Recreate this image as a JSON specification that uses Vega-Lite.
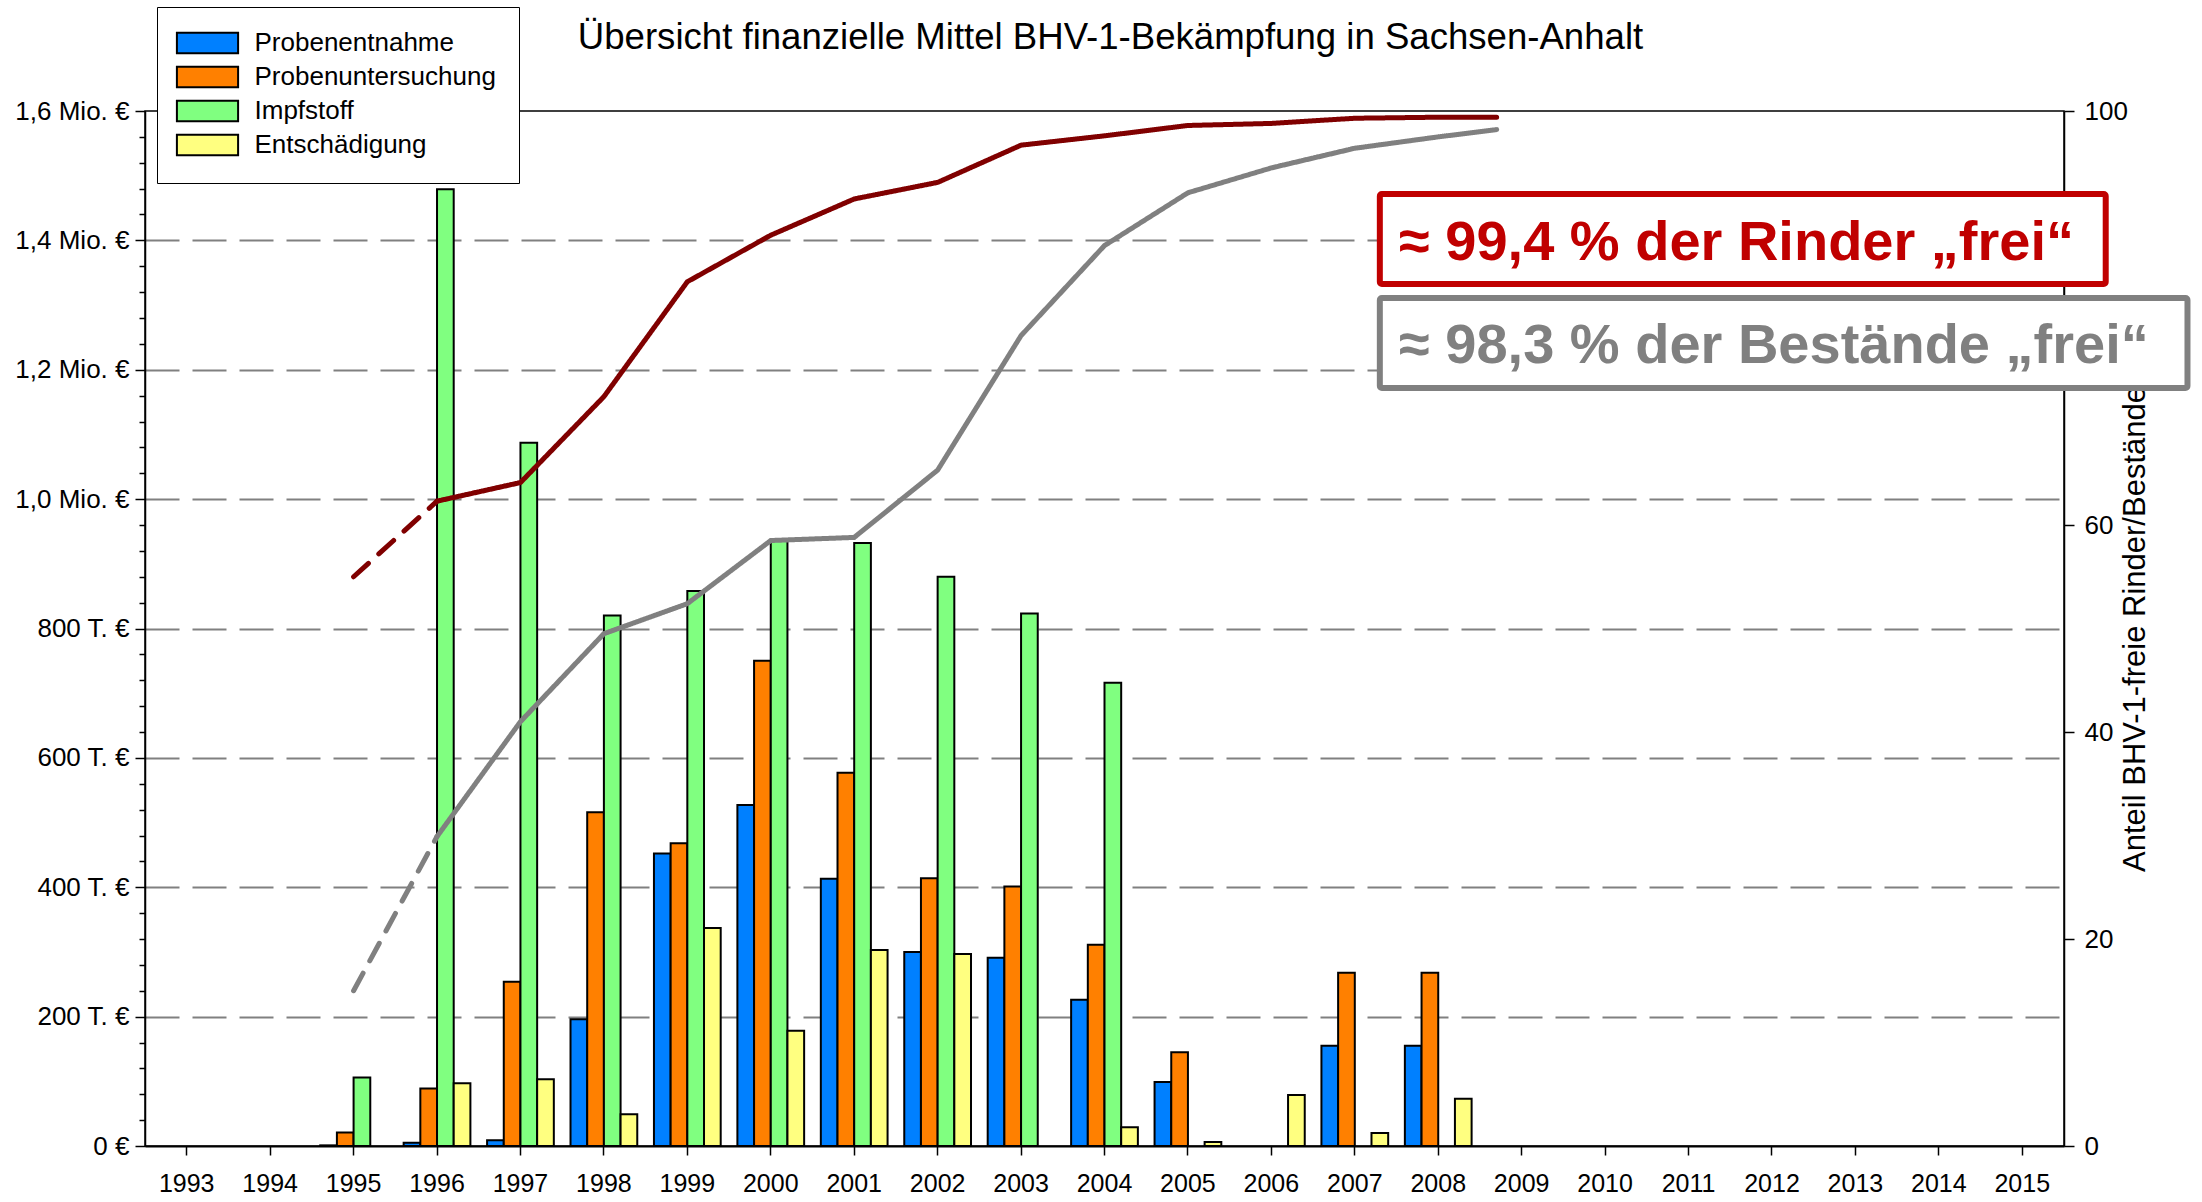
{
  "$schema": "https://vega.github.io/schema/vega-lite/v6.json",
  "width": 1919,
  "height": 1035,
  "autosize": {"type": "none"},
  "padding": {"left": 145, "top": 111, "right": 138, "bottom": 56},
  "background": "white",
  "title": {
    "text": "Übersicht finanzielle Mittel BHV-1-Bekämpfung in Sachsen-Anhalt",
    "fontSize": 36.6, "fontWeight": "normal", "font": "Liberation Sans", "color": "black",
    "anchor": "middle", "offset": -50, "dx": 6
  },
  "config": {
    "font": "Liberation Sans",
    "view": {"stroke": "black", "strokeWidth": 1.5},
    "axis": {"labelFont": "Liberation Sans", "titleFont": "Liberation Sans", "labelColor": "black", "titleColor": "black", "domainColor": "black", "tickColor": "black"}
  },
  "datasets": {
    "kosten": [
      {"jahr": 1995, "kategorie": "Probenentnahme", "betrag": 1000},
      {"jahr": 1996, "kategorie": "Probenentnahme", "betrag": 5000},
      {"jahr": 1997, "kategorie": "Probenentnahme", "betrag": 9000},
      {"jahr": 1998, "kategorie": "Probenentnahme", "betrag": 196000},
      {"jahr": 1999, "kategorie": "Probenentnahme", "betrag": 452000},
      {"jahr": 2000, "kategorie": "Probenentnahme", "betrag": 527000},
      {"jahr": 2001, "kategorie": "Probenentnahme", "betrag": 413000},
      {"jahr": 2002, "kategorie": "Probenentnahme", "betrag": 300000},
      {"jahr": 2003, "kategorie": "Probenentnahme", "betrag": 291000},
      {"jahr": 2004, "kategorie": "Probenentnahme", "betrag": 226000},
      {"jahr": 2005, "kategorie": "Probenentnahme", "betrag": 99000},
      {"jahr": 2007, "kategorie": "Probenentnahme", "betrag": 155000},
      {"jahr": 2008, "kategorie": "Probenentnahme", "betrag": 155000},
      {"jahr": 1995, "kategorie": "Probenuntersuchung", "betrag": 21000},
      {"jahr": 1996, "kategorie": "Probenuntersuchung", "betrag": 89000},
      {"jahr": 1997, "kategorie": "Probenuntersuchung", "betrag": 254000},
      {"jahr": 1998, "kategorie": "Probenuntersuchung", "betrag": 516000},
      {"jahr": 1999, "kategorie": "Probenuntersuchung", "betrag": 468000},
      {"jahr": 2000, "kategorie": "Probenuntersuchung", "betrag": 750000},
      {"jahr": 2001, "kategorie": "Probenuntersuchung", "betrag": 577000},
      {"jahr": 2002, "kategorie": "Probenuntersuchung", "betrag": 414000},
      {"jahr": 2003, "kategorie": "Probenuntersuchung", "betrag": 401000},
      {"jahr": 2004, "kategorie": "Probenuntersuchung", "betrag": 311000},
      {"jahr": 2005, "kategorie": "Probenuntersuchung", "betrag": 145000},
      {"jahr": 2007, "kategorie": "Probenuntersuchung", "betrag": 268000},
      {"jahr": 2008, "kategorie": "Probenuntersuchung", "betrag": 268000},
      {"jahr": 1995, "kategorie": "Impfstoff", "betrag": 106000},
      {"jahr": 1996, "kategorie": "Impfstoff", "betrag": 1479000},
      {"jahr": 1997, "kategorie": "Impfstoff", "betrag": 1087000},
      {"jahr": 1998, "kategorie": "Impfstoff", "betrag": 820000},
      {"jahr": 1999, "kategorie": "Impfstoff", "betrag": 858000},
      {"jahr": 2000, "kategorie": "Impfstoff", "betrag": 936000},
      {"jahr": 2001, "kategorie": "Impfstoff", "betrag": 932000},
      {"jahr": 2002, "kategorie": "Impfstoff", "betrag": 880000},
      {"jahr": 2003, "kategorie": "Impfstoff", "betrag": 823000},
      {"jahr": 2004, "kategorie": "Impfstoff", "betrag": 716000},
      {"jahr": 1996, "kategorie": "Entschädigung", "betrag": 97000},
      {"jahr": 1997, "kategorie": "Entschädigung", "betrag": 103000},
      {"jahr": 1998, "kategorie": "Entschädigung", "betrag": 49000},
      {"jahr": 1999, "kategorie": "Entschädigung", "betrag": 337000},
      {"jahr": 2000, "kategorie": "Entschädigung", "betrag": 178000},
      {"jahr": 2001, "kategorie": "Entschädigung", "betrag": 303000},
      {"jahr": 2002, "kategorie": "Entschädigung", "betrag": 297000},
      {"jahr": 2004, "kategorie": "Entschädigung", "betrag": 29000},
      {"jahr": 2005, "kategorie": "Entschädigung", "betrag": 6000},
      {"jahr": 2006, "kategorie": "Entschädigung", "betrag": 79000},
      {"jahr": 2007, "kategorie": "Entschädigung", "betrag": 20000},
      {"jahr": 2008, "kategorie": "Entschädigung", "betrag": 73000}
    ],
    "linien": [
      {"jahr": 1995, "anteil": 55.0, "serie": "Rinder", "abschnitt": "gestrichelt"},
      {"jahr": 1996, "anteil": 62.3, "serie": "Rinder", "abschnitt": "gestrichelt"},
      {"jahr": 1996, "anteil": 62.3, "serie": "Rinder", "abschnitt": "durchgezogen"},
      {"jahr": 1997, "anteil": 64.1, "serie": "Rinder", "abschnitt": "durchgezogen"},
      {"jahr": 1998, "anteil": 72.4, "serie": "Rinder", "abschnitt": "durchgezogen"},
      {"jahr": 1999, "anteil": 83.5, "serie": "Rinder", "abschnitt": "durchgezogen"},
      {"jahr": 2000, "anteil": 88.0, "serie": "Rinder", "abschnitt": "durchgezogen"},
      {"jahr": 2001, "anteil": 91.5, "serie": "Rinder", "abschnitt": "durchgezogen"},
      {"jahr": 2002, "anteil": 93.1, "serie": "Rinder", "abschnitt": "durchgezogen"},
      {"jahr": 2003, "anteil": 96.7, "serie": "Rinder", "abschnitt": "durchgezogen"},
      {"jahr": 2004, "anteil": 97.6, "serie": "Rinder", "abschnitt": "durchgezogen"},
      {"jahr": 2005, "anteil": 98.6, "serie": "Rinder", "abschnitt": "durchgezogen"},
      {"jahr": 2006, "anteil": 98.8, "serie": "Rinder", "abschnitt": "durchgezogen"},
      {"jahr": 2007, "anteil": 99.3, "serie": "Rinder", "abschnitt": "durchgezogen"},
      {"jahr": 2008, "anteil": 99.4, "serie": "Rinder", "abschnitt": "durchgezogen"},
      {"jahr": 2008.7, "anteil": 99.4, "serie": "Rinder", "abschnitt": "durchgezogen"},
      {"jahr": 1995, "anteil": 15.0, "serie": "Bestände", "abschnitt": "gestrichelt"},
      {"jahr": 1996, "anteil": 29.9, "serie": "Bestände", "abschnitt": "gestrichelt"},
      {"jahr": 1996, "anteil": 29.9, "serie": "Bestände", "abschnitt": "durchgezogen"},
      {"jahr": 1997, "anteil": 41.0, "serie": "Bestände", "abschnitt": "durchgezogen"},
      {"jahr": 1998, "anteil": 49.5, "serie": "Bestände", "abschnitt": "durchgezogen"},
      {"jahr": 1999, "anteil": 52.4, "serie": "Bestände", "abschnitt": "durchgezogen"},
      {"jahr": 2000, "anteil": 58.5, "serie": "Bestände", "abschnitt": "durchgezogen"},
      {"jahr": 2001, "anteil": 58.8, "serie": "Bestände", "abschnitt": "durchgezogen"},
      {"jahr": 2002, "anteil": 65.3, "serie": "Bestände", "abschnitt": "durchgezogen"},
      {"jahr": 2003, "anteil": 78.3, "serie": "Bestände", "abschnitt": "durchgezogen"},
      {"jahr": 2004, "anteil": 87.0, "serie": "Bestände", "abschnitt": "durchgezogen"},
      {"jahr": 2005, "anteil": 92.1, "serie": "Bestände", "abschnitt": "durchgezogen"},
      {"jahr": 2006, "anteil": 94.5, "serie": "Bestände", "abschnitt": "durchgezogen"},
      {"jahr": 2007, "anteil": 96.4, "serie": "Bestände", "abschnitt": "durchgezogen"},
      {"jahr": 2008, "anteil": 97.5, "serie": "Bestände", "abschnitt": "durchgezogen"},
      {"jahr": 2008.7, "anteil": 98.2, "serie": "Bestände", "abschnitt": "durchgezogen"}
    ],
    "hinweise": [
      {"serie": "Rinder", "text": "≈ 99,4 % der Rinder „frei“"},
      {"serie": "Bestände", "text": "≈ 98,3 % der Bestände „frei“"}
    ]
  },
  "layer": [
    {
      "data": {"name": "kosten"},
      "mark": {"type": "bar", "stroke": "black", "strokeWidth": 2},
      "encoding": {
        "x": {
          "field": "jahr", "type": "ordinal",
          "scale": {"domain": [1993,1994,1995,1996,1997,1998,1999,2000,2001,2002,2003,2004,2005,2006,2007,2008,2009,2010,2011,2012,2013,2014,2015], "paddingInner": 0.2, "paddingOuter": 0.1},
          "axis": {"title": null, "labelAngle": 0, "labelFontSize": 25, "tickSize": 9, "tickWidth": 1.5, "labelPadding": 16, "domainWidth": 2, "grid": false}
        },
        "xOffset": {
          "field": "kategorie", "type": "nominal",
          "scale": {"domain": ["Probenentnahme", "Probenuntersuchung", "Impfstoff", "Entschädigung"], "paddingInner": 0, "paddingOuter": 0}
        },
        "y": {
          "field": "betrag", "type": "quantitative",
          "scale": {"domain": [0, 1600000], "nice": false},
          "axis": {
            "title": null,
            "values": [0,40000,80000,120000,160000,200000,240000,280000,320000,360000,400000,440000,480000,520000,560000,600000,640000,680000,720000,760000,800000,840000,880000,920000,960000,1000000,1040000,1080000,1120000,1160000,1200000,1240000,1280000,1320000,1360000,1400000,1440000,1480000,1520000,1560000,1600000],
            "labelExpr": "datum.value % 200000 !== 0 ? '' : datum.value === 0 ? '0 €' : datum.value < 1000000 ? format(datum.value / 1000, 'd') + ' T. €' : replace(format(datum.value / 1000000, '.1f'), '.', ',') + ' Mio. €'",
            "labelFontSize": 26,
            "labelOverlap": false,
            "labelFlush": false,
            "labelPadding": 6,
            "tickSize": {"condition": {"test": "datum.value % 200000 === 0", "value": 10}, "value": 6},
            "tickWidth": 1.5,
            "domainWidth": 1.5,
            "grid": true,
            "gridColor": "#808080",
            "gridWidth": 2,
            "gridDash": [34, 13],
            "gridOpacity": {"condition": {"test": "datum.value % 200000 !== 0 || datum.value === 0 || datum.value === 1600000", "value": 0}, "value": 1}
          }
        },
        "color": {
          "field": "kategorie", "type": "nominal",
          "scale": {"domain": ["Probenentnahme", "Probenuntersuchung", "Impfstoff", "Entschädigung"], "range": ["#0080FF", "#FF8000", "#80FF80", "#FFFF80"]},
          "legend": {
            "title": null, "orient": "none", "legendX": 12, "legendY": -104,
            "symbolType": "M-3,-1H3V1H-3Z", "symbolSize": 416,
            "symbolStrokeColor": "black", "symbolStrokeWidth": 2, "symbolOpacity": 1,
            "symbolOffset": 14.5, "labelOffset": 34, "padding": 23, "rowPadding": 4,
            "labelFontSize": 26, "labelFont": "Liberation Sans", "labelColor": "black", "labelLimit": 500,
            "strokeColor": "black", "fillColor": "white", "cornerRadius": 0
          }
        }
      }
    },
    {
      "data": {"name": "linien"},
      "transform": [{"filter": "datum.serie === 'Rinder'"}],
      "mark": {"type": "line", "color": "#800000", "strokeWidth": 5, "strokeCap": "round"},
      "encoding": {
        "x": {"field": "jahr", "type": "quantitative", "scale": {"domain": [1992.5, 2015.5], "nice": false, "zero": false}, "axis": null},
        "y": {
          "field": "anteil", "type": "quantitative",
          "scale": {"domain": [0, 100], "nice": false},
          "axis": {
            "orient": "right", "values": [0, 20, 40, 60, 100],
            "title": "Anteil BHV-1-freie Rinder/Bestände", "titleAngle": 270, "titleFontSize": 31,
            "titleFontWeight": "normal", "titlePadding": 24,
            "labelFontSize": 26, "tickSize": 10, "tickWidth": 1.5, "labelPadding": 10,
            "labelFlush": false, "labelOverlap": false, "grid": false, "domainWidth": 1.5
          }
        },
        "strokeDash": {
          "field": "abschnitt", "type": "nominal",
          "scale": {"domain": ["gestrichelt", "durchgezogen"], "range": [[20, 14], [1, 0]]},
          "legend": null
        }
      }
    },
    {
      "data": {"name": "linien"},
      "transform": [{"filter": "datum.serie === 'Bestände'"}],
      "mark": {"type": "line", "color": "#808080", "strokeWidth": 5, "strokeCap": "round"},
      "encoding": {
        "x": {"field": "jahr", "type": "quantitative", "scale": {"domain": [1992.5, 2015.5], "nice": false, "zero": false}, "axis": null},
        "y": {"field": "anteil", "type": "quantitative", "scale": {"domain": [0, 100], "nice": false}, "axis": null},
        "strokeDash": {"field": "abschnitt", "type": "nominal", "legend": null}
      }
    },
    {
      "data": {"name": "hinweise"},
      "transform": [{"filter": "datum.serie === 'Rinder'"}],
      "mark": {"type": "rect", "fill": "white", "stroke": "#C00000", "strokeWidth": 6, "cornerRadius": 2},
      "encoding": {
        "x": {"datum": 2007.3, "type": "quantitative", "scale": {"domain": [1992.5, 2015.5], "nice": false, "zero": false}, "axis": null},
        "x2": {"datum": 2016.0},
        "y": {"datum": 91.98, "type": "quantitative", "scale": {"domain": [0, 100], "nice": false}, "axis": null},
        "y2": {"datum": 83.29}
      }
    },
    {
      "data": {"name": "hinweise"},
      "transform": [{"filter": "datum.serie === 'Bestände'"}],
      "mark": {"type": "rect", "fill": "white", "stroke": "#808080", "strokeWidth": 6, "cornerRadius": 2},
      "encoding": {
        "x": {"datum": 2007.3, "type": "quantitative", "scale": {"domain": [1992.5, 2015.5], "nice": false, "zero": false}, "axis": null},
        "x2": {"datum": 2016.98},
        "y": {"datum": 81.93, "type": "quantitative", "scale": {"domain": [0, 100], "nice": false}, "axis": null},
        "y2": {"datum": 73.24}
      }
    },
    {
      "data": {"name": "hinweise"},
      "transform": [{"filter": "datum.serie === 'Rinder'"}],
      "mark": {"type": "text", "align": "left", "baseline": "alphabetic", "font": "Liberation Sans", "fontWeight": "bold", "fontSize": 56, "color": "#C00000"},
      "encoding": {
        "x": {"datum": 2007.53, "type": "quantitative", "scale": {"domain": [1992.5, 2015.5], "nice": false, "zero": false}, "axis": null},
        "y": {"datum": 85.6, "type": "quantitative", "scale": {"domain": [0, 100], "nice": false}, "axis": null},
        "text": {"field": "text", "type": "nominal"}
      }
    },
    {
      "data": {"name": "hinweise"},
      "transform": [{"filter": "datum.serie === 'Bestände'"}],
      "mark": {"type": "text", "align": "left", "baseline": "alphabetic", "font": "Liberation Sans", "fontWeight": "bold", "fontSize": 56, "color": "#808080"},
      "encoding": {
        "x": {"datum": 2007.53, "type": "quantitative", "scale": {"domain": [1992.5, 2015.5], "nice": false, "zero": false}, "axis": null},
        "y": {"datum": 75.65, "type": "quantitative", "scale": {"domain": [0, 100], "nice": false}, "axis": null},
        "text": {"field": "text", "type": "nominal"}
      }
    }
  ],
  "resolve": {"scale": {"x": "independent", "y": "independent"}}
}
